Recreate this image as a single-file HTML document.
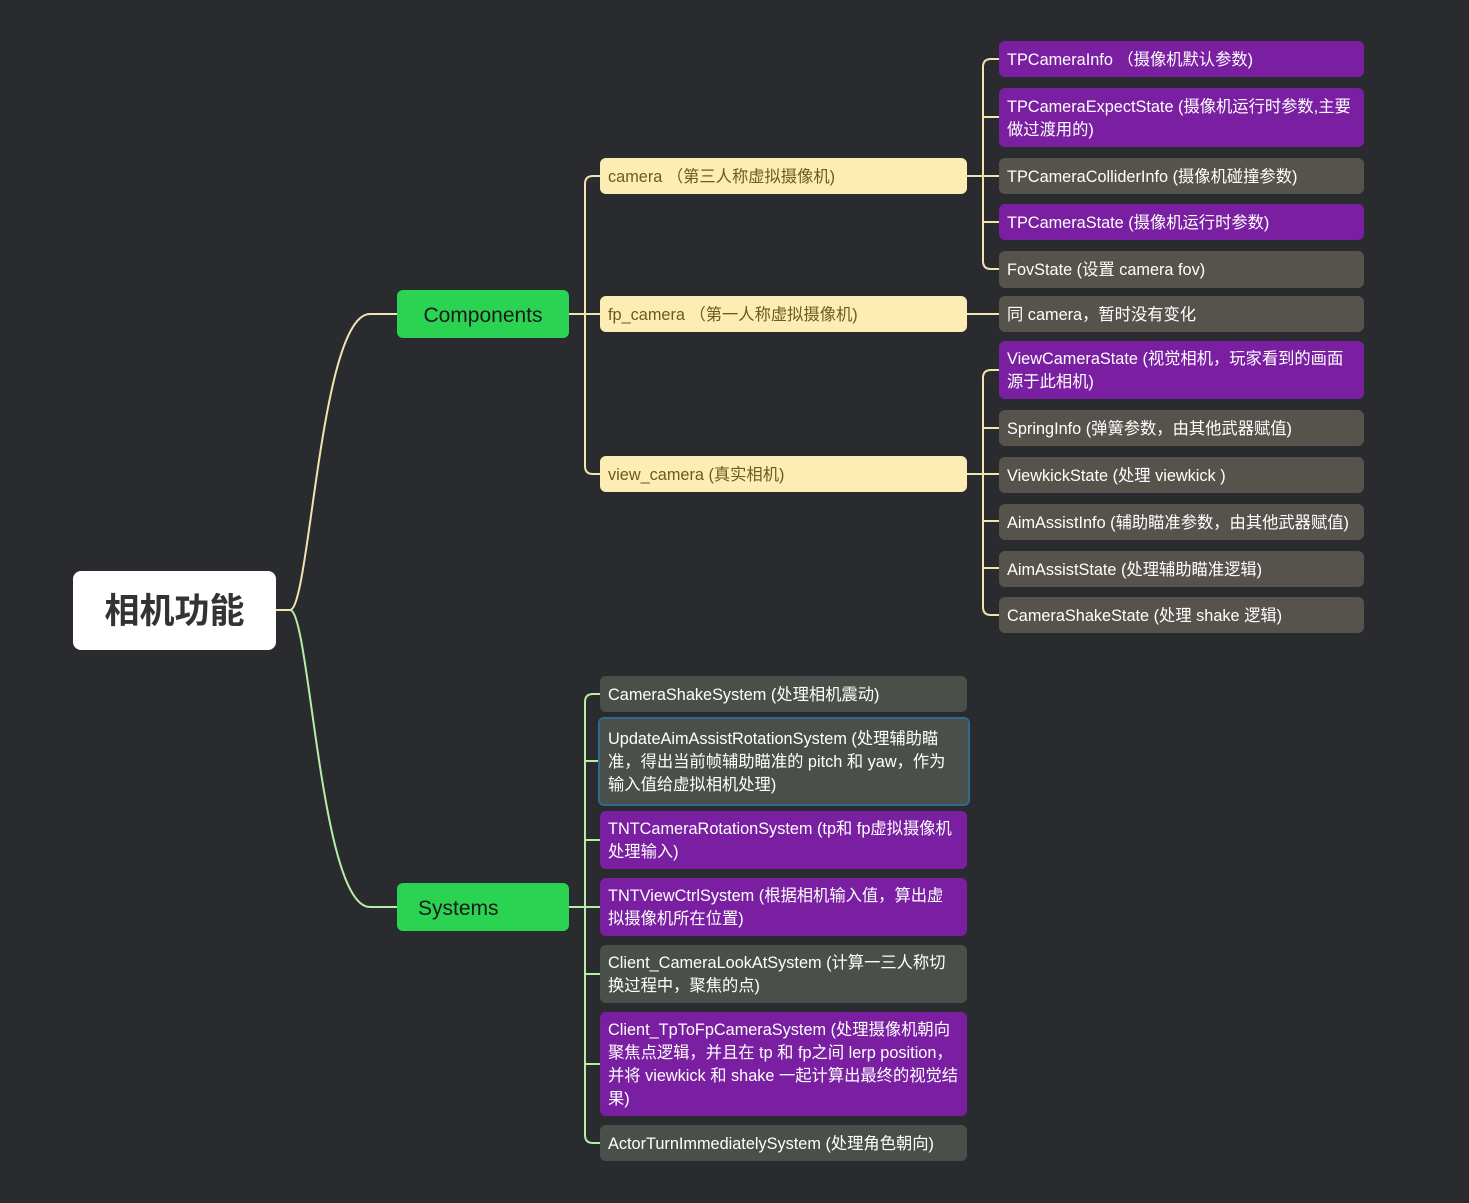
<!DOCTYPE html>
<html><head><meta charset="utf-8"><style>
body{margin:0;width:1469px;height:1203px;background:#2a2b2f;position:relative;overflow:hidden;font-family:"Liberation Sans","Noto Sans CJK SC",sans-serif}
.n{position:absolute;box-sizing:border-box;border-radius:6px;font-size:16.3px;line-height:23px;padding:2px 8px 0 8px;display:flex;align-items:center;color:#fff;letter-spacing:0}
.p{background:#7a1fa2}.g{background:#56534d}.s{background:#4a5049}.y{background:#fdedb4;color:#6d5a1c}
</style></head><body>
<svg width="1469" height="1203" style="position:absolute;left:0;top:0" fill="none" stroke-width="2">
<g stroke="#f3e3ae">
<path d="M276,610 H290 C310,610 320,314 370,314 H397"/>
<path d="M569,314 H600"/>
<path d="M600,176 H593 Q585,176 585,184 V466 Q585,474 593,474 H600"/>
<path d="M967,176 H999 M967,314 H999 M967,474 H999"/>
<path d="M999,59 H991 Q983,59 983,67 V261 Q983,269 991,269 H999"/>
<path d="M983,117 H999 M983,222 H999"/>
<path d="M999,370 H991 Q983,370 983,378 V607 Q983,615 991,615 H999"/>
<path d="M983,428 H999 M983,521 H999 M983,568 H999"/>
</g>
<g stroke="#b6eda6">
<path d="M290,610 C310,610 320,907 370,907 H397"/>
<path d="M569,907 H585"/>
<path d="M600,694 H593 Q585,694 585,702 V1135 Q585,1143 593,1143 H600"/>
<path d="M585,761 H600 M585,840 H600 M585,907 H600 M585,974 H600 M585,1064 H600"/>
</g>
</svg>
<div class="n" style="left:73px;top:571px;width:203px;height:79px;background:#fff;color:#333;font-size:35px;font-weight:bold;justify-content:center;border-radius:8px">相机功能</div>
<div class="n" style="left:397px;top:290px;width:172px;height:48px;background:#2bd353;color:#1a1a1a;font-size:21px;justify-content:center">Components</div>
<div class="n" style="left:397px;top:883px;width:172px;height:48px;background:#2bd353;color:#1a1a1a;font-size:21px;padding-left:21px">Systems</div>
<div class="n y" style="left:600px;top:158px;width:367px;height:36px">camera （第三人称虚拟摄像机)</div>
<div class="n y" style="left:600px;top:296px;width:367px;height:36px">fp_camera （第一人称虚拟摄像机)</div>
<div class="n y" style="left:600px;top:456px;width:367px;height:36px">view_camera (真实相机)</div>
<div class="n p" style="left:999px;top:41px;width:365px;height:36px">TPCameraInfo （摄像机默认参数)</div>
<div class="n p" style="left:999px;top:88px;width:365px;height:59px">TPCameraExpectState (摄像机运行时参数,主要做过渡用的)</div>
<div class="n g" style="left:999px;top:158px;width:365px;height:36px">TPCameraColliderInfo (摄像机碰撞参数)</div>
<div class="n p" style="left:999px;top:204px;width:365px;height:36px">TPCameraState (摄像机运行时参数)</div>
<div class="n g" style="left:999px;top:251px;width:365px;height:37px">FovState (设置 camera fov)</div>
<div class="n g" style="left:999px;top:296px;width:365px;height:36px">同 camera，暂时没有变化</div>
<div class="n p" style="left:999px;top:341px;width:365px;height:58px">ViewCameraState (视觉相机，玩家看到的画面源于此相机)</div>
<div class="n g" style="left:999px;top:410px;width:365px;height:36px">SpringInfo (弹簧参数，由其他武器赋值)</div>
<div class="n g" style="left:999px;top:457px;width:365px;height:36px">ViewkickState (处理 viewkick )</div>
<div class="n g" style="left:999px;top:504px;width:365px;height:36px">AimAssistInfo (辅助瞄准参数，由其他武器赋值)</div>
<div class="n g" style="left:999px;top:551px;width:365px;height:36px">AimAssistState (处理辅助瞄准逻辑)</div>
<div class="n g" style="left:999px;top:597px;width:365px;height:36px">CameraShakeState (处理 shake 逻辑)</div>
<div class="n s" style="left:600px;top:676px;width:367px;height:36px">CameraShakeSystem (处理相机震动)</div>
<div class="n s" style="left:598px;top:717px;width:372px;height:89px;border:2px solid #2f6b8c;padding-left:8px">UpdateAimAssistRotationSystem (处理辅助瞄准，得出当前帧辅助瞄准的 pitch 和 yaw，作为输入值给虚拟相机处理)</div>
<div class="n p" style="left:600px;top:811px;width:367px;height:58px">TNTCameraRotationSystem (tp和 fp虚拟摄像机处理输入)</div>
<div class="n p" style="left:600px;top:878px;width:367px;height:58px">TNTViewCtrlSystem (根据相机输入值，算出虚拟摄像机所在位置)</div>
<div class="n s" style="left:600px;top:945px;width:367px;height:58px">Client_CameraLookAtSystem (计算一三人称切换过程中，聚焦的点)</div>
<div class="n p" style="left:600px;top:1012px;width:367px;height:104px">Client_TpToFpCameraSystem (处理摄像机朝向聚焦点逻辑，并且在 tp 和 fp之间 lerp position，并将 viewkick 和 shake 一起计算出最终的视觉结果)</div>
<div class="n s" style="left:600px;top:1125px;width:367px;height:36px">ActorTurnImmediatelySystem (处理角色朝向)</div>
</body></html>
